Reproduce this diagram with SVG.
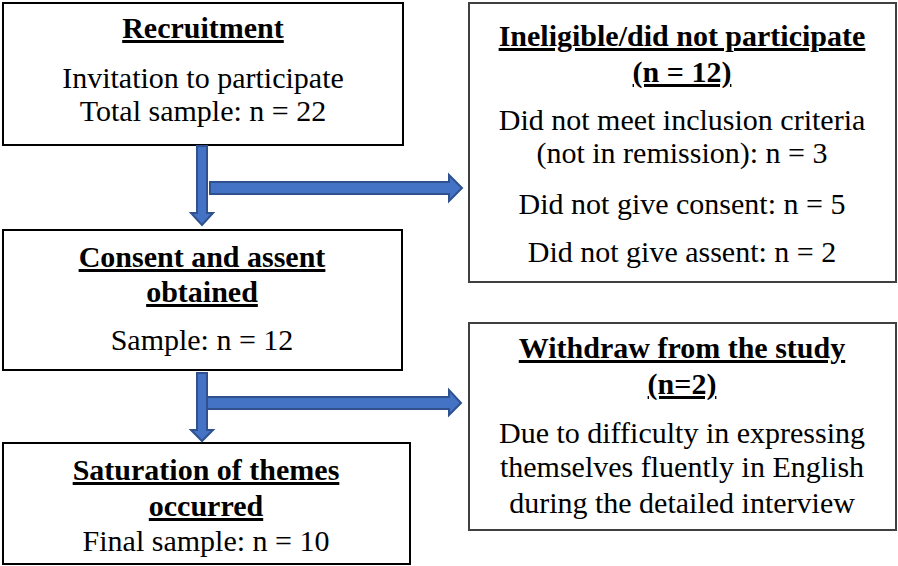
<svg xmlns="http://www.w3.org/2000/svg" width="898" height="566" viewBox="0 0 898 566">
<style>
.box{fill:#fff;stroke:#000;stroke-width:2}
.rbox{fill:#fff;stroke:#404040;stroke-width:2}
text{font-family:"Liberation Serif","Times New Roman",serif;font-size:30px;fill:#000;text-anchor:middle}
.h{font-weight:bold;text-decoration:underline}
.arr{fill:#4472C4;stroke:#2F528F;stroke-width:2;stroke-linejoin:miter}
</style>
<rect width="898" height="566" fill="#fff"/>
<g id="recruitment">
<rect class="box" x="3" y="3" width="400" height="142"/>
<text class="h" x="203" y="38">Recruitment</text>
<text x="203" y="88">Invitation to participate</text>
<text x="203" y="121">Total sample: n = 22</text>
</g>
<g id="consent">
<rect class="box" x="3" y="230" width="399" height="140"/>
<text class="h" x="202" y="267">Consent and assent</text>
<text class="h" x="202" y="302">obtained</text>
<text x="202" y="350">Sample: n = 12</text>
</g>
<g id="saturation">
<rect class="box" x="3" y="443" width="407" height="121"/>
<text class="h" x="206" y="480">Saturation of themes</text>
<text class="h" x="206" y="516">occurred</text>
<text x="206" y="551">Final sample: n = 10</text>
</g>
<g id="ineligible">
<rect class="rbox" x="469" y="3" width="427" height="279"/>
<text class="h" x="682" y="46">Ineligible/did not participate</text>
<text class="h" x="682" y="82">(n = 12)</text>
<text x="682" y="130">Did not meet inclusion criteria</text>
<text x="682" y="163">(not in remission): n = 3</text>
<text x="682" y="214">Did not give consent: n = 5</text>
<text x="682" y="262">Did not give assent: n = 2</text>
</g>
<g id="withdraw">
<rect class="rbox" x="469" y="323" width="427" height="207"/>
<text class="h" x="682" y="358">Withdraw from the study</text>
<text class="h" x="682" y="394">(n=2)</text>
<text x="682" y="443">Due to difficulty in expressing</text>
<text x="682" y="477">themselves fluently in English</text>
<text x="682" y="513">during the detailed interview</text>
</g>
<g id="connectors">
<polygon class="arr" points="197,146 207,146 207,213 213,213 202,225 191,213 197,213"/>
<polygon class="arr" points="210,182 449,182 449,175 462,188 449,201 449,194 210,194"/>
<polygon class="arr" points="197,373 207,373 207,430 213,430 202,441 191,430 197,430"/>
<polygon class="arr" points="207,397 449,397 449,390 461,403 449,415 449,409 207,409"/>
</g>
</svg>
